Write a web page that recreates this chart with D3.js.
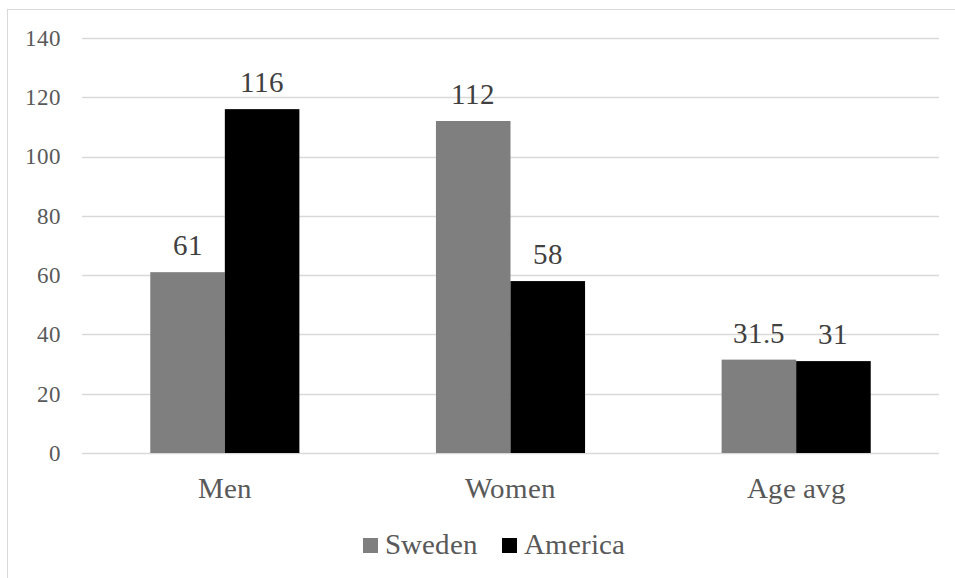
<!DOCTYPE html>
<html><head><meta charset="utf-8">
<script src="https://cdn.jsdelivr.net/npm/d3@7"></script>
<style>
@font-face{font-family:"ChartSerif";src:local("Liberation Serif"),local("LiberationSerif"),local("Liberation Serif Regular"),local("LiberationSerif-Regular");}
body{margin:0;background:#fff;font-family:"Liberation Serif",serif}
</style>
</head><body>
<script>
const categories = ["Men", "Women", "Age avg"];
const seriesNames = ["Sweden", "America"];
const sweden = [61, 112, 31.5];
const america = [116, 58, 31];
const yTicks = [0, 20, 40, 60, 80, 100, 120, 140];
const colors = ["#7f7f7f", "#000000"];

const W = 955, H = 578;
const FONT = "ChartSerif, Liberation Serif, Times New Roman, serif";
const svg = d3.select("body").append("svg").attr("width", W).attr("height", H)
  .style("display", "block").attr("font-family", FONT);

// chart border
svg.append("rect").attr("x", 7.5).attr("y", 9.5).attr("width", 1000).attr("height", 1000)
  .attr("fill", "none").attr("stroke", "#d9d9d9").attr("stroke-width", 1);

const x0 = d3.scaleBand().domain(categories).range([82, 939]).paddingInner(0.478).paddingOuter(0.239);
const x1 = d3.scaleBand().domain(seriesNames).range([0, x0.bandwidth()]);
const y = d3.scaleLinear().domain([0, 140]).range([453, 38]);

const grid = svg.append("g");
grid.selectAll("line").data(yTicks).join("line")
  .attr("x1", 82).attr("x2", 939)
  .attr("y1", d => Math.round(y(d)) + 0.5).attr("y2", d => Math.round(y(d)) + 0.5)
  .attr("stroke", "#d9d9d9").attr("stroke-width", 1.3);

const yAxis = d3.axisLeft(y).tickValues(yTicks).tickSize(0).tickPadding(0);
const ya = svg.append("g").attr("transform", "translate(61,0)").call(yAxis);
ya.select(".domain").remove();
ya.attr("font-family", FONT).attr("font-size", 23);
ya.selectAll("text").attr("font-family", FONT).attr("fill", "#595959");

const data = categories.map((c, i) => ({ c, vals: [sweden[i], america[i]] }));
const groups = svg.append("g").selectAll("g").data(data).join("g")
  .attr("transform", d => `translate(${x0(d.c)},0)`);
groups.selectAll("rect").data(d => d.vals.map((v, j) => ({ s: seriesNames[j], v, j }))).join("rect")
  .attr("x", d => x1(d.s)).attr("width", x1.bandwidth())
  .attr("y", d => y(d.v)).attr("height", d => y(0) - y(d.v))
  .attr("fill", d => colors[d.j]);
groups.selectAll("text").data(d => d.vals.map((v, j) => ({ s: seriesNames[j], v, j }))).join("text")
  .attr("x", d => x1(d.s) + x1.bandwidth() / 2).attr("y", d => y(d.v) - 17)
  .attr("text-anchor", "middle").attr("font-family", FONT).attr("font-size", 28.5).attr("fill", "#404040")
  .text(d => d.v);

const xAxis = d3.axisBottom(x0).tickSize(0).tickPadding(0);
const xa = svg.append("g").attr("transform", "translate(0,453)").call(xAxis);
xa.select(".domain").remove();
xa.attr("font-family", FONT).attr("font-size", 28.5);
xa.selectAll("text").attr("font-family", FONT).attr("fill", "#595959")
  .attr("dy", null).attr("y", 45);

// legend
const legend = svg.append("g");
const lx = [363, 502];
seriesNames.forEach((s, i) => {
  legend.append("rect").attr("x", lx[i]).attr("y", 538).attr("width", 15).attr("height", 15).attr("fill", colors[i]);
  legend.append("text").attr("x", lx[i] + 22).attr("y", 554).attr("font-family", FONT).attr("font-size", 28.5)
    .attr("fill", "#595959").text(s);
});
</script>
</body></html>
